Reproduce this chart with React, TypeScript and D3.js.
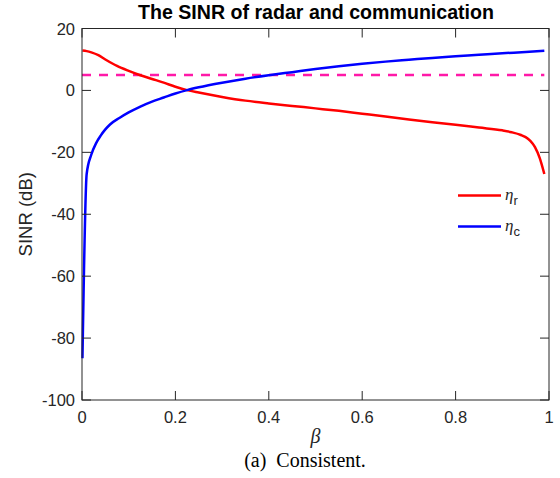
import React from "react";
import * as d3 from "d3";

const betaR = [0.001, 0.01, 0.02, 0.035, 0.05, 0.075, 0.1, 0.125, 0.15, 0.175, 0.2, 0.225, 0.25, 0.3, 0.35, 0.4, 0.45, 0.5, 0.55, 0.6, 0.65, 0.7, 0.75, 0.8, 0.85, 0.9, 0.92, 0.94, 0.95, 0.96, 0.97, 0.98, 0.99];
const etaR = [12.9, 12.7, 12.3, 11.4, 10.0, 7.9, 6.3, 4.9, 3.7, 2.5, 1.2, 0.1, -0.7, -2.1, -3.3, -4.2, -5.0, -5.8, -6.6, -7.5, -8.4, -9.4, -10.3, -11.1, -12.0, -12.9, -13.5, -14.4, -15.1, -16.3, -18.3, -21.8, -27.0];

const betaC = [0.001, 0.01, 0.02, 0.03, 0.04, 0.05, 0.06, 0.08, 0.1, 0.125, 0.15, 0.175, 0.2, 0.225, 0.25, 0.3, 0.35, 0.4, 0.45, 0.5, 0.55, 0.6, 0.65, 0.7, 0.75, 0.8, 0.85, 0.9, 0.95, 0.99];
const etaC = [-86.5, -27.0, -20.7, -17.1, -14.6, -12.6, -11.0, -8.9, -7.1, -5.2, -3.6, -2.3, -1.0, 0.1, 1.0, 2.5, 3.8, 4.9, 5.9, 6.9, 7.8, 8.6, 9.3, 9.9, 10.5, 11.0, 11.5, 12.0, 12.4, 12.8];

const threshold = 5;
const thresholdRange = [0, 0.99];

const xTicks = [0, 0.2, 0.4, 0.6, 0.8, 1];
const yTicks = [-100, -80, -60, -40, -20, 0, 20];

export default function App() {
  const W = 560, H = 478;
  const L = 82, R = 549, T = 28.5, B = 400;
  const x = d3.scaleLinear().domain([0, 1]).range([L, R]);
  const y = d3.scaleLinear().domain([-100, 20]).range([B, T]);
  const line = d3.line<[number, number]>().x(d => x(d[0])).y(d => y(d[1])).curve(d3.curveMonotoneX);
  const redPts = betaR.map((b, i) => [b, etaR[i]] as [number, number]);
  const bluePts = betaC.map((b, i) => [b, etaC[i]] as [number, number]);
  const axisCol = "#262626";
  const tl = 9;
  const sans = "'Liberation Sans', Arial, sans-serif";
  const serif = "'Liberation Serif', 'Times New Roman', serif";
  return (
    <svg width={W} height={H} style={{ position: "absolute", left: 0, top: 0, background: "#fff" }}>
      <rect x={0} y={0} width={W} height={H} fill="#fff" />
      <text x={(L + R) / 2 + 0.5} y={18.8} textAnchor="middle" fontFamily={sans} fontWeight="bold" fontSize={19.6} fill="#000">
        The SINR of radar and communication
      </text>
      <line x1={x(thresholdRange[0])} x2={x(thresholdRange[1])} y1={y(threshold)} y2={y(threshold)}
        stroke="#FF19A8" strokeWidth={2.5} strokeDasharray="9,8" />
      <path d={line(redPts) || ""} fill="none" stroke="#FF0000" strokeWidth={2.5} strokeLinejoin="round" />
      <path d={line(bluePts) || ""} fill="none" stroke="#0000FF" strokeWidth={2.5} strokeLinejoin="round" />
      <rect x={L} y={T} width={R - L} height={B - T} fill="none" stroke={axisCol} strokeWidth={1} />
      {xTicks.map(t => (
        <g key={"x" + t}>
          <line x1={x(t)} x2={x(t)} y1={B} y2={B - tl} stroke={axisCol} strokeWidth={1} />
          <line x1={x(t)} x2={x(t)} y1={T} y2={T + tl} stroke={axisCol} strokeWidth={1} />
          <text x={x(t)} y={422.7} textAnchor="middle" fontFamily={sans} fontSize={16.5} fill={axisCol}>{t}</text>
        </g>
      ))}
      {yTicks.map(t => (
        <g key={"y" + t}>
          <line x1={L} x2={L + tl} y1={y(t)} y2={y(t)} stroke={axisCol} strokeWidth={1} />
          <line x1={R} x2={R - tl} y1={y(t)} y2={y(t)} stroke={axisCol} strokeWidth={1} />
          <text x={L - 7} y={y(t) + 6} textAnchor="end" fontFamily={sans} fontSize={16.5} fill={axisCol}>{t}</text>
        </g>
      ))}
      <text transform={`translate(31.7,${(T + B) / 2}) rotate(-90)`} textAnchor="middle" fontFamily={sans} fontSize={18.5} fill={axisCol}>
        SINR (dB)
      </text>
      <text x={(L + R) / 2} y={443} textAnchor="middle" fontFamily={serif} fontStyle="italic" fontSize={20} fill={axisCol}>β</text>
      <text x={305} y={467} textAnchor="middle" fontFamily={serif} fontSize={20} fill="#000" style={{ whiteSpace: "pre" }}>(a)  Consistent.</text>
      <line x1={458} x2={501} y1={195.5} y2={195.5} stroke="#FF0000" strokeWidth={2.5} />
      <text x={505} y={200} fontFamily={serif} fontStyle="italic" fontSize={17} fill={axisCol}>η<tspan fontStyle="normal" fontFamily={sans} fontSize={13} dy={5}>r</tspan></text>
      <line x1={458} x2={501} y1={226.5} y2={226.5} stroke="#0000FF" strokeWidth={2.5} />
      <text x={505} y={231} fontFamily={serif} fontStyle="italic" fontSize={17} fill={axisCol}>η<tspan fontStyle="normal" fontFamily={sans} fontSize={13} dy={5}>c</tspan></text>
    </svg>
  );
}
